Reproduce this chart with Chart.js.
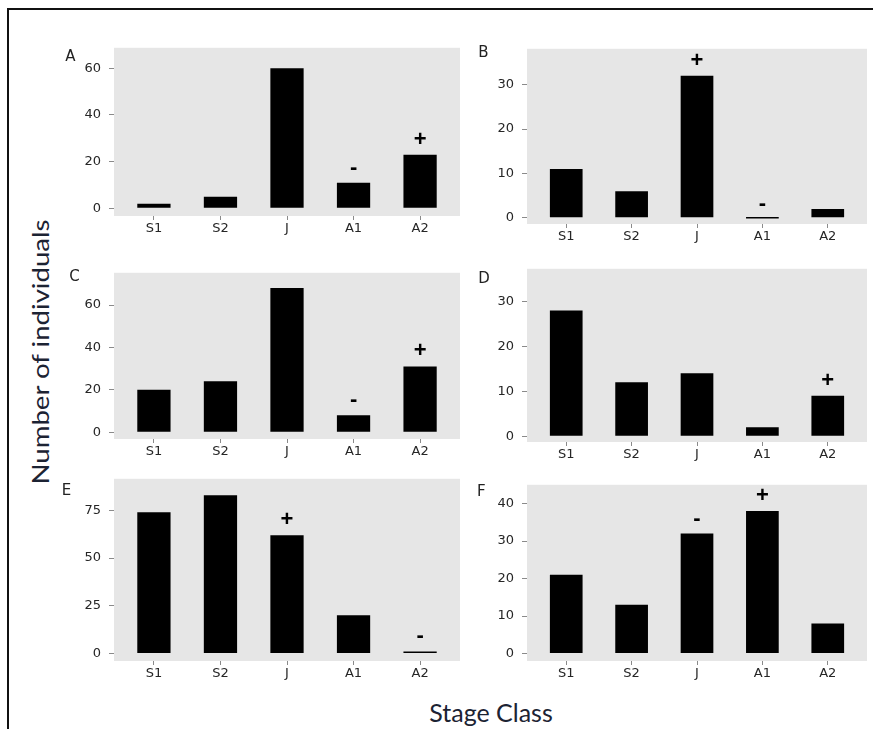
<!DOCTYPE html>
<html>
<head>
<meta charset="utf-8">
<script src="https://cdn.jsdelivr.net/npm/chart.js@4.4.0/dist/chart.umd.min.js"></script>
<style>
  body { margin: 0; background: #fff; }
  #figure { position: relative; width: 873px; height: 729px; overflow: hidden; background: #fff; }
  #frame { position: absolute; left: 7px; top: 8px; right: -10px; bottom: -10px;
           border-top: 2px solid #111; border-left: 2px solid #111; }
  canvas { position: absolute; }
  .title { position: absolute; font-family: Lato, sans-serif; color: #1c2333; white-space: nowrap; }
  #ytitle { left: 40px; top: 352px; font-size: 23px;
            transform: translate(-50%, -50%) rotate(-90deg) scaleX(1.2); }
  #xtitle { left: 491px; top: 712px; font-size: 25px; transform: translate(-50%, -50%); }
</style>
</head>
<body>
<div id="figure">
  <div id="frame"></div>
  <div class="title" id="ytitle">Number of individuals</div>
  <div class="title" id="xtitle">Stage Class</div>
</div>
<script>
// stage classes on every x axis
const stages = ['S1', 'S2', 'J', 'A1', 'A2'];

// counts per site
const countsA = [2, 5, 60, 11, 23];
const countsB = [11, 6, 32, 0, 2];
const countsC = [20, 24, 68, 8, 31];
const countsD = [28, 12, 14, 2, 9];
const countsE = [74, 83, 62, 20, 1];
const countsF = [21, 13, 32, 38, 8];

// significance marks above the bars
const signsA = ['', '', '', '-', '+'];
const signsB = ['', '', '+', '-', ''];
const signsC = ['', '', '', '-', '+'];
const signsD = ['', '', '', '', '+'];
const signsE = ['', '', '+', '', '-'];
const signsF = ['', '', '-', '+', ''];

// y tick labels
const ticksA = [0, 20, 40, 60];
const ticksB = [0, 10, 20, 30];
const ticksC = [0, 20, 40, 60];
const ticksD = [0, 10, 20, 30];
const ticksE = [0, 25, 50, 75];
const ticksF = [0, 10, 20, 30, 40];

const AXIS_W = 58;   // room for y tick labels + letter
const AXIS_H = 26;   // room for x tick labels
const tickFont = { family: '"DejaVu Sans", sans-serif', size: 13 };
const tickColor = '#262626';

const panels = [
  { letter: 'A', counts: countsA, signs: signsA, ticks: ticksA, min: -3.3, max: 68.8,
    area: { x: 114, y: 32, w: 346, h: 184 }, letterAt: [-43.5, 9] },
  { letter: 'B', counts: countsB, signs: signsB, ticks: ticksB, min: -1.4, max: 38.1,
    area: { x: 527, y: 33, w: 340, h: 191 }, letterAt: [-43.7, 4.5] },
  { letter: 'C', counts: countsC, signs: signsC, ticks: ticksC, min: -3.2, max: 75.2,
    area: { x: 114, y: 257, w: 346, h: 182 }, letterAt: [-39.5, 4.3] },
  { letter: 'D', counts: countsD, signs: signsD, ticks: ticksD, min: -1.3, max: 37.3,
    area: { x: 527, y: 253, w: 340, h: 189 }, letterAt: [-43, 10] },
  { letter: 'E', counts: countsE, signs: signsE, ticks: ticksE, min: -4.0, max: 91.6,
    area: { x: 114, y: 463, w: 346, h: 198 }, letterAt: [-47.5, 12] },
  { letter: 'F', counts: countsF, signs: signsF, ticks: ticksF, min: -2.0, max: 45.0,
    area: { x: 527, y: 469, w: 340, h: 192 }, letterAt: [-45.7, 7] }
];

// grey panel behind the bars
const panelBg = {
  id: 'panelBg',
  beforeDraw(chart) {
    const { ctx, chartArea: a } = chart;
    ctx.save();
    ctx.fillStyle = '#e6e6e6';
    ctx.fillRect(a.left, a.top, a.right - a.left, a.bottom - a.top);
    ctx.restore();
  }
};

// + / - above the bars
const signLabels = {
  id: 'signLabels',
  afterDatasetsDraw(chart, args, opts) {
    const ctx = chart.ctx;
    const bars = chart.getDatasetMeta(0).data;
    ctx.save();
    ctx.font = 'bold 22px "Liberation Sans", Arial, sans-serif';
    ctx.fillStyle = '#000';
    ctx.textAlign = 'center';
    ctx.textBaseline = 'alphabetic';
    bars.forEach((bar, i) => {
      if (opts.labels[i]) ctx.fillText(opts.labels[i], bar.x, bar.y - 9);
    });
    ctx.restore();
  }
};

// panel letter at the top left
const panelLetter = {
  id: 'panelLetter',
  afterDraw(chart, args, opts) {
    const { ctx, chartArea: a } = chart;
    ctx.save();
    ctx.font = '15px "DejaVu Sans", sans-serif';
    ctx.fillStyle = '#222';
    ctx.textAlign = 'center';
    ctx.textBaseline = 'middle';
    ctx.fillText(opts.text, a.left + opts.at[0], a.top + opts.at[1]);
    ctx.restore();
  }
};

const fig = document.getElementById('figure');

function makePanel(p) {
  const canvas = document.createElement('canvas');
  canvas.width = AXIS_W + p.area.w + 2;
  canvas.height = p.area.h + AXIS_H;
  canvas.style.left = (p.area.x - AXIS_W) + 'px';
  canvas.style.top = p.area.y + 'px';
  fig.appendChild(canvas);

  new Chart(canvas, {
    type: 'bar',
    data: {
      datasets: [{
        data: p.counts.map((v, i) => ({ x: i + 1, y: v })),
        backgroundColor: '#000',
        barPercentage: 0.5,
        categoryPercentage: 1,
        minBarLength: 1.5
      }]
    },
    options: {
      responsive: false,
      animation: false,
      devicePixelRatio: 1,
      layout: { padding: { top: 0, right: 2, bottom: 0, left: 0 } },
      plugins: {
        legend: { display: false },
        tooltip: { enabled: false },
        signLabels: { labels: p.signs },
        panelLetter: { text: p.letter, at: p.letterAt }
      },
      scales: {
        x: {
          type: 'linear',
          min: 0.4,
          max: 5.6,
          offset: false,
          afterFit: s => { s.height = AXIS_H; },
          afterBuildTicks: s => { s.ticks = stages.map((_, i) => ({ value: i + 1 })); },
          ticks: {
            callback: v => stages[v - 1],
            font: tickFont,
            color: tickColor,
            padding: 1,
            maxRotation: 0,
            autoSkip: false
          },
          grid: { offset: false, drawOnChartArea: false, tickLength: 4, color: '#8a8a8a' },
          border: { display: false }
        },
        y: {
          min: p.min,
          max: p.max,
          afterFit: s => { s.width = AXIS_W; },
          afterBuildTicks: s => { s.ticks = p.ticks.map(v => ({ value: v })); },
          ticks: { font: tickFont, color: tickColor, padding: 8 },
          grid: { drawOnChartArea: false, tickLength: 5, color: '#8a8a8a' },
          border: { display: false }
        }
      }
    },
    plugins: [panelBg, signLabels, panelLetter]
  });
}

panels.forEach(makePanel);
</script>
</body>
</html>
